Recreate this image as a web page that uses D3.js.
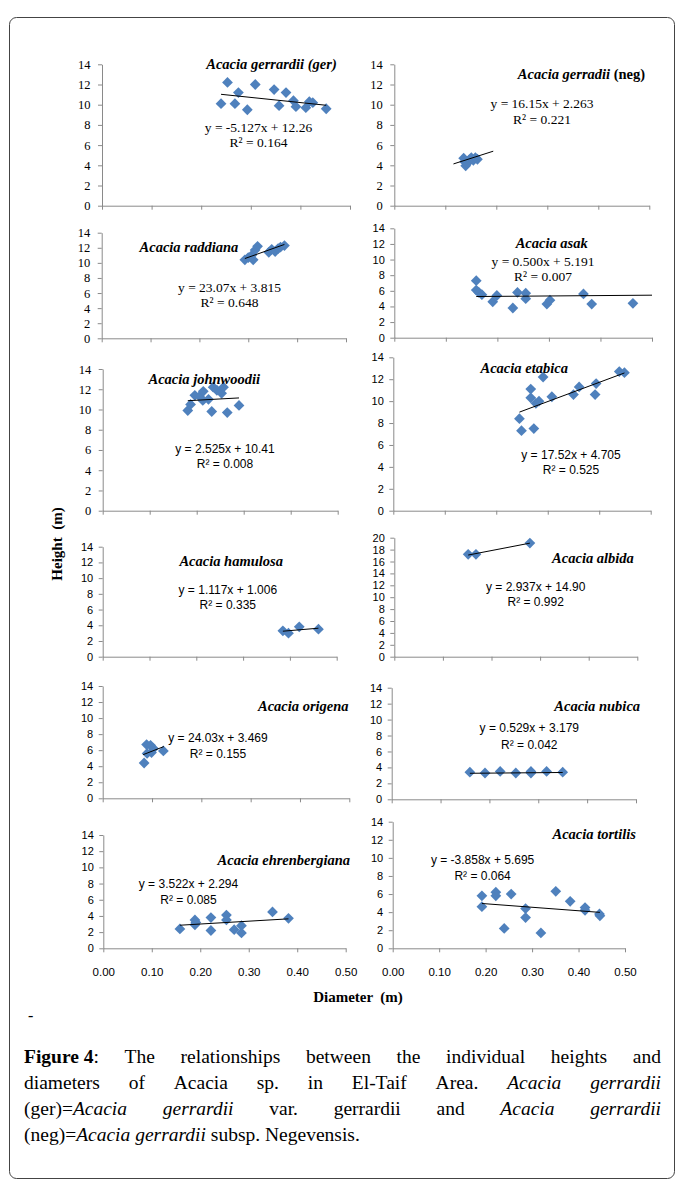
<!DOCTYPE html>
<html><head><meta charset="utf-8">
<script src="https://cdn.jsdelivr.net/npm/d3@7"></script>
<style>
html,body{margin:0;padding:0;background:#fff;}
svg{display:block;}
</style></head><body>
<svg id="fig" width="683" height="1187"></svg>
<script>
// ---- data: height (m) against diameter (m) for each Acacia taxon ----
const speciesNames = ["Acacia gerrardii", "Acacia gerradii", "Acacia raddiana", "Acacia asak",
  "Acacia johnwoodii", "Acacia etabica", "Acacia hamulosa", "Acacia albida",
  "Acacia origena", "Acacia nubica", "Acacia ehrenbergiana", "Acacia tortilis"];
const speciesQualifiers = ["(ger)", "(neg)", "", "", "", "", "", "", "", "", "", ""];

const gerDiameter = [0.240, 0.253, 0.268, 0.275, 0.293, 0.309, 0.347, 0.357, 0.371, 0.386, 0.391, 0.411, 0.418, 0.425, 0.452];
const gerHeight   = [10.1, 12.2, 10.1, 11.2, 9.5, 12.0, 11.5, 9.9, 11.2, 10.4, 9.8, 9.7, 10.3, 10.2, 9.6];

const negDiameter = [0.136, 0.138, 0.140, 0.143, 0.147, 0.151, 0.155, 0.159, 0.163];
const negHeight   = [4.70, 4.35, 3.95, 4.20, 4.55, 4.75, 4.50, 4.75, 4.60];

const raddianaDiameter = [0.293, 0.300, 0.307, 0.310, 0.314, 0.319, 0.342, 0.348, 0.355, 0.361, 0.366, 0.374];
const raddianaHeight   = [10.4, 10.7, 11.0, 10.4, 11.7, 12.2, 11.4, 11.8, 11.5, 11.9, 12.1, 12.3];

const asakDiameter = [0.159, 0.159, 0.164, 0.170, 0.191, 0.199, 0.230, 0.239, 0.255, 0.255, 0.296, 0.302, 0.367, 0.383, 0.463];
const asakHeight   = [7.3, 6.1, 5.8, 5.5, 4.6, 5.4, 3.8, 5.8, 5.7, 5.0, 4.3, 4.8, 5.6, 4.3, 4.4];

const johnwoodiiDiameter = [0.181, 0.187, 0.196, 0.206, 0.213, 0.214, 0.225, 0.232, 0.235, 0.243, 0.253, 0.257, 0.265, 0.290];
const johnwoodiiHeight   = [9.9, 10.5, 11.4, 11.3, 10.9, 11.8, 11.0, 9.8, 12.2, 11.9, 11.6, 12.2, 9.7, 10.4];

const etabicaDiameter = [0.245, 0.249, 0.267, 0.267, 0.273, 0.277, 0.283, 0.291, 0.308, 0.350, 0.361, 0.392, 0.394, 0.439, 0.449];
const etabicaHeight   = [8.4, 7.3, 11.1, 10.3, 7.5, 9.8, 10.0, 12.2, 10.4, 10.6, 11.3, 10.6, 11.6, 12.7, 12.6];

const hamulosaDiameter = [0.385, 0.397, 0.420, 0.461];
const hamulosaHeight   = [3.3, 3.0, 3.8, 3.5];

const albidaDiameter = [0.152, 0.168, 0.279];
const albidaHeight   = [17.2, 17.2, 19.1];

const origenaDiameter = [0.084, 0.089, 0.090, 0.097, 0.099, 0.103, 0.123];
const origenaHeight   = [4.4, 6.7, 5.6, 6.6, 5.7, 6.2, 5.9];

const nubicaDiameter = [0.160, 0.191, 0.222, 0.254, 0.285, 0.285, 0.317, 0.350];
const nubicaHeight   = [3.4, 3.3, 3.5, 3.3, 3.5, 3.3, 3.5, 3.4];

const ehrenbergianaDiameter = [0.158, 0.189, 0.189, 0.191, 0.222, 0.222, 0.254, 0.254, 0.270, 0.285, 0.285, 0.349, 0.382];
const ehrenbergianaHeight   = [2.4, 3.5, 2.9, 3.2, 3.8, 2.2, 4.1, 3.5, 2.3, 2.8, 1.9, 4.5, 3.7];

const tortilisDiameter = [0.192, 0.192, 0.222, 0.222, 0.240, 0.255, 0.286, 0.286, 0.319, 0.351, 0.382, 0.414, 0.414, 0.445, 0.446];
const tortilisHeight   = [5.8, 4.6, 6.2, 5.8, 2.2, 6.0, 4.4, 3.4, 1.7, 6.3, 5.2, 4.5, 4.2, 3.8, 3.6];

const diameters = [gerDiameter, negDiameter, raddianaDiameter, asakDiameter, johnwoodiiDiameter, etabicaDiameter,
  hamulosaDiameter, albidaDiameter, origenaDiameter, nubicaDiameter, ehrenbergianaDiameter, tortilisDiameter];
const heights = [gerHeight, negHeight, raddianaHeight, asakHeight, johnwoodiiHeight, etabicaHeight,
  hamulosaHeight, albidaHeight, origenaHeight, nubicaHeight, ehrenbergianaHeight, tortilisHeight];

// printed linear trend lines
const trendSlope     = [-5.127, 16.15, 23.07, 0.500, 2.525, 17.52, 1.117, 2.937, 24.03, 0.529, 3.522, -3.858];
const trendIntercept = [12.26, 2.263, 3.815, 5.191, 10.41, 4.705, 1.006, 14.90, 3.469, 3.179, 2.294, 5.695];
const equationLabels = ["y = -5.127x + 12.26", "y = 16.15x + 2.263", "y = 23.07x + 3.815", "y = 0.500x + 5.191",
  "y = 2.525x + 10.41", "y = 17.52x + 4.705", "y = 1.117x + 1.006", "y = 2.937x + 14.90",
  "y = 24.03x + 3.469", "y = 0.529x + 3.179", "y = 3.522x + 2.294", "y = -3.858x + 5.695"];
const rSquaredLabels = ["R\u00B2 = 0.164", "R\u00B2 = 0.221", "R\u00B2 = 0.648", "R\u00B2 = 0.007",
  "R\u00B2 = 0.008", "R\u00B2 = 0.525", "R\u00B2 = 0.335", "R\u00B2 = 0.992",
  "R\u00B2 = 0.155", "R\u00B2 = 0.042", "R\u00B2 = 0.085", "R\u00B2 = 0.064"];
// trend lines that run past the measured diameters (null = span of the data)
const trendStart = [null, 0.116, null, null, null, null, null, null, 0.082, null, null, null];
const trendEnd   = [null, 0.194, null, 0.500, null, null, null, null, 0.124, null, null, null];
// the coefficients printed for these two were computed on another diameter scale,
// so their lines are refitted on the plotted points
const refitSpecies = ["Acacia hamulosa", "Acacia albida"];

const heightMax = [14, 14, 14, 14, 14, 14, 14, 20, 14, 14, 14, 14];
const diameterTicks = [0, 0.1, 0.2, 0.3, 0.4, 0.5];

// ---- layout of the twelve panels ----
const SERIF = "'Liberation Serif','Times New Roman',serif";
const SANS = "'Liberation Sans',Arial,sans-serif";
const panels = [
  {x0: 102,   x1: 350,   yTop: 64.3,  yBot: 205.7, tick: "serif", eq: "serif", title: [271.5, 69],  eqPos: [258.5, 127.7, 142.3]},
  {x0: 394.3, x1: 649.3, yTop: 64.3,  yBot: 205.7, tick: "serif", eq: "serif", title: [581.5, 79],  eqPos: [542,   103.3, 119.3]},
  {x0: 101.7, x1: 346,   yTop: 232.7, yBot: 338.3, tick: "serif", eq: "serif", title: [188.9, 252], eqPos: [229.5, 287.7, 302.7]},
  {x0: 394.3, x1: 652,   yTop: 228.3, yBot: 337.7, tick: "sans",  eq: "serif", title: [551.7, 248], eqPos: [543,   261,   276]},
  {x0: 102.7, x1: 337.7, yTop: 369,   yBot: 510.7, tick: "serif", eq: "sans",  title: [204.3, 384], eqPos: [225,   448.3, 463.3]},
  {x0: 393.3, x1: 650.7, yTop: 357.3, yBot: 510.7, tick: "sans",  eq: "sans",  title: [524.2, 373], eqPos: [571,   454,   469.7]},
  {x0: 102.7, x1: 336.7, yTop: 546.7, yBot: 656.7, tick: "sans",  eq: "sans",  title: [231.2, 565.5], eqPos: [227.8, 589, 604.3]},
  {x0: 394.3, x1: 637.3, yTop: 537.7, yBot: 656.7, tick: "sans",  eq: "sans",  title: [593, 562.5], eqPos: [535.7, 586,   601.7]},
  {x0: 102.7, x1: 349.3, yTop: 686,   yBot: 798.3, tick: "sans",  eq: "sans",  title: [303.3, 710.5], eqPos: [218, 737.3, 753.3]},
  {x0: 391.7, x1: 636,   yTop: 687.7, yBot: 799.3, tick: "sans",  eq: "sans",  title: [597.2, 711], eqPos: [529.3, 727.7, 744]},
  {x0: 103.3, x1: 345.7, yTop: 835,   yBot: 948.3, tick: "sans",  eq: "sans",  title: [283.8, 865], eqPos: [188.5, 883.3, 899], xLabels: true},
  {x0: 392.7, x1: 625,   yTop: 821.7, yBot: 948.3, tick: "sans",  eq: "sans",  title: [594.2, 839], eqPos: [482.6, 859.3, 875], xLabels: true}
];

const AXIS_GREY = "#8a8a8a";
const MARKER_BLUE = "#4f81bd";

const svg = d3.select("#fig");
svg.append("rect").attr("width", 683).attr("height", 1187).attr("fill", "#fff");

// outer frame around figure and caption
svg.append("rect")
  .attr("x", 9.5).attr("y", 17.5).attr("width", 665).attr("height", 1161)
  .attr("rx", 7).attr("fill", "none").attr("stroke", "#444").attr("stroke-width", 1);

function leastSquares(xs, ys) {
  const mx = d3.mean(xs), my = d3.mean(ys);
  const sxy = d3.sum(xs, (x, k) => (x - mx) * (ys[k] - my));
  const sxx = d3.sum(xs, x => (x - mx) * (x - mx));
  const slope = sxy / sxx;
  return {slope, intercept: my - slope * mx};
}

const diamond = d3.symbol().type(d3.symbolSquare).size(58);

panels.forEach((p, i) => {
  const g = svg.append("g");
  const x = d3.scaleLinear().domain([0, 0.5]).range([p.x0, p.x1]);
  const y = d3.scaleLinear().domain([0, heightMax[i]]).range([p.yBot, p.yTop]);
  const tickFamily = p.tick === "serif" ? SERIF : SANS;
  const tickSize = p.tick === "serif" ? 12.5 : 11;

  // y axis
  const yAxis = d3.axisLeft(y)
    .tickValues(d3.range(0, heightMax[i] + 1, 2))
    .tickSize(4).tickSizeOuter(0)
    .tickPadding(p.tick === "serif" ? 7.5 : 5.5);
  const yg = g.append("g").attr("transform", `translate(${p.x0},0)`).call(yAxis);
  yg.select(".domain").attr("stroke", AXIS_GREY);
  yg.selectAll(".tick line").attr("stroke", AXIS_GREY);
  yg.selectAll(".tick text").attr("font-family", tickFamily).attr("font-size", tickSize).attr("fill", "#000");

  // x axis
  const xAxis = d3.axisBottom(x)
    .tickValues(diameterTicks)
    .tickSize(4).tickSizeOuter(0)
    .tickPadding(15.6)
    .tickFormat(p.xLabels ? d3.format(".2f") : () => "");
  const xg = g.append("g").attr("transform", `translate(0,${p.yBot})`).call(xAxis);
  xg.select(".domain").attr("stroke", AXIS_GREY);
  xg.selectAll(".tick line").attr("stroke", AXIS_GREY);
  xg.selectAll(".tick text").attr("font-family", SANS).attr("font-size", 11.5).attr("fill", "#000");

  // points
  const pts = diameters[i].map((d, k) => [d, heights[i][k]]);
  g.selectAll("path.pt").data(pts).enter().append("path")
    .attr("class", "pt")
    .attr("d", diamond)
    .attr("transform", d => `translate(${x(d[0])},${y(d[1])}) rotate(45)`)
    .attr("fill", MARKER_BLUE);

  // trend line
  let slope = trendSlope[i], intercept = trendIntercept[i];
  if (refitSpecies.includes(speciesNames[i])) {
    const fit = leastSquares(diameters[i], heights[i]);
    slope = fit.slope; intercept = fit.intercept;
  }
  const xa = trendStart[i] != null ? trendStart[i] : d3.min(diameters[i]);
  const xb = trendEnd[i] != null ? trendEnd[i] : d3.max(diameters[i]);
  g.append("line")
    .attr("x1", x(xa)).attr("y1", y(slope * xa + intercept))
    .attr("x2", x(xb)).attr("y2", y(slope * xb + intercept))
    .attr("stroke", "#000").attr("stroke-width", 1);

  // title
  const t = g.append("text")
    .attr("x", p.title[0]).attr("y", p.title[1])
    .attr("text-anchor", "middle")
    .attr("font-family", SERIF).attr("font-size", 14.5).attr("font-weight", "bold");
  t.append("tspan").attr("font-style", "italic").text(speciesNames[i]);
  if (speciesQualifiers[i]) {
    t.append("tspan").attr("font-style", i === 0 ? "italic" : "normal").text(" " + speciesQualifiers[i]);
  }

  // equation and R²
  const eqFamily = p.eq === "serif" ? SERIF : SANS;
  const eqSize = p.eq === "serif" ? 13.5 : 12;
  g.append("text").attr("x", p.eqPos[0]).attr("y", p.eqPos[1] + 4.5)
    .attr("text-anchor", "middle").attr("font-family", eqFamily).attr("font-size", eqSize)
    .text(equationLabels[i]);
  g.append("text").attr("x", p.eqPos[0]).attr("y", p.eqPos[2] + 4.5)
    .attr("text-anchor", "middle").attr("font-family", eqFamily).attr("font-size", eqSize)
    .text(rSquaredLabels[i]);
});

// shared axis titles
svg.append("text")
  .attr("transform", "translate(62,544) rotate(-90)")
  .attr("text-anchor", "middle").attr("font-family", SERIF).attr("font-size", 15).attr("font-weight", "bold")
  .style("white-space", "pre").text("Height  (m)");
svg.append("text")
  .attr("x", 358).attr("y", 1001.5)
  .attr("text-anchor", "middle").attr("font-family", SERIF).attr("font-size", 15).attr("font-weight", "bold")
  .style("white-space", "pre").text("Diameter  (m)");
svg.append("text").attr("x", 28).attr("y", 1021).attr("font-family", SERIF).attr("font-size", 16).text("-");

// ---- caption, justified between the frame margins ----
const captionLeft = 24, captionRight = 661, captionSize = 19.5;
const B = "bold", I = "italic";
const captionLines = [
  {justify: true, words: [[["Figure 4", B], [":"]], [["The"]], [["relationships"]], [["between"]], [["the"]], [["individual"]], [["heights"]], [["and"]]]},
  {justify: true, words: [[["diameters"]], [["of"]], [["Acacia"]], [["sp."]], [["in"]], [["El-Taif"]], [["Area."]], [["Acacia", I]], [["gerrardii", I]]]},
  {justify: true, words: [[["(ger)="], ["Acacia", I]], [["gerrardii", I]], [["var."]], [["gerrardii"]], [["and"]], [["Acacia", I]], [["gerrardii", I]]]},
  {justify: false, words: [[["(neg)="], ["Acacia", I]], [["gerrardii", I]], [["subsp."]], [["Negevensis."]]]}
];
const captionBaselines = [1063, 1089, 1115, 1141];

captionLines.forEach((line, li) => {
  const nodes = line.words.map(pieces => {
    const tx = svg.append("text").attr("y", captionBaselines[li])
      .attr("font-family", SERIF).attr("font-size", captionSize).attr("fill", "#000");
    pieces.forEach(([txt, st]) => {
      const ts = tx.append("tspan").text(txt);
      if (st === B) ts.attr("font-weight", "bold");
      if (st === I) ts.attr("font-style", "italic");
    });
    return tx;
  });
  const widths = nodes.map(n => n.node().getComputedTextLength());
  const total = d3.sum(widths);
  const gap = line.justify ? (captionRight - captionLeft - total) / (nodes.length - 1) : captionSize * 0.25;
  let cx = captionLeft;
  nodes.forEach((n, k) => { n.attr("x", cx); cx += widths[k] + gap; });
});
</script>
</body></html>
